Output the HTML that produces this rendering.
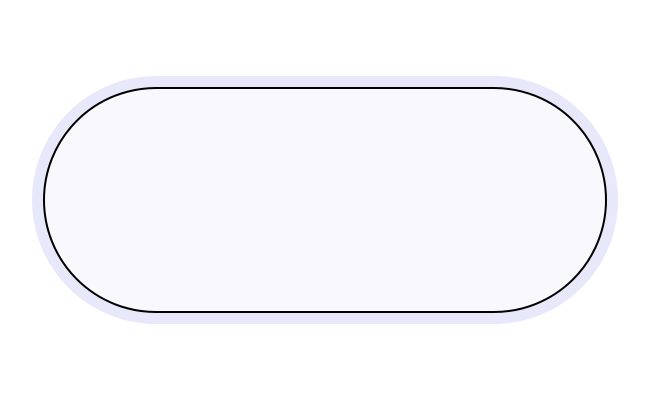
<!DOCTYPE html>
<html><head><style>html,body{margin:0;padding:0;background:#fff;width:650px;height:400px;overflow:hidden}</style></head>
<body>
<svg width="650" height="400" xmlns="http://www.w3.org/2000/svg">
<rect x="38" y="82" width="574" height="236" rx="118" ry="118" fill="none" stroke="#e8e8fb" stroke-width="12"/>
<rect x="44" y="88" width="562" height="224" rx="112" ry="112" fill="#f8f8fd" stroke="#000" stroke-width="2"/>
</svg>
</body></html>
